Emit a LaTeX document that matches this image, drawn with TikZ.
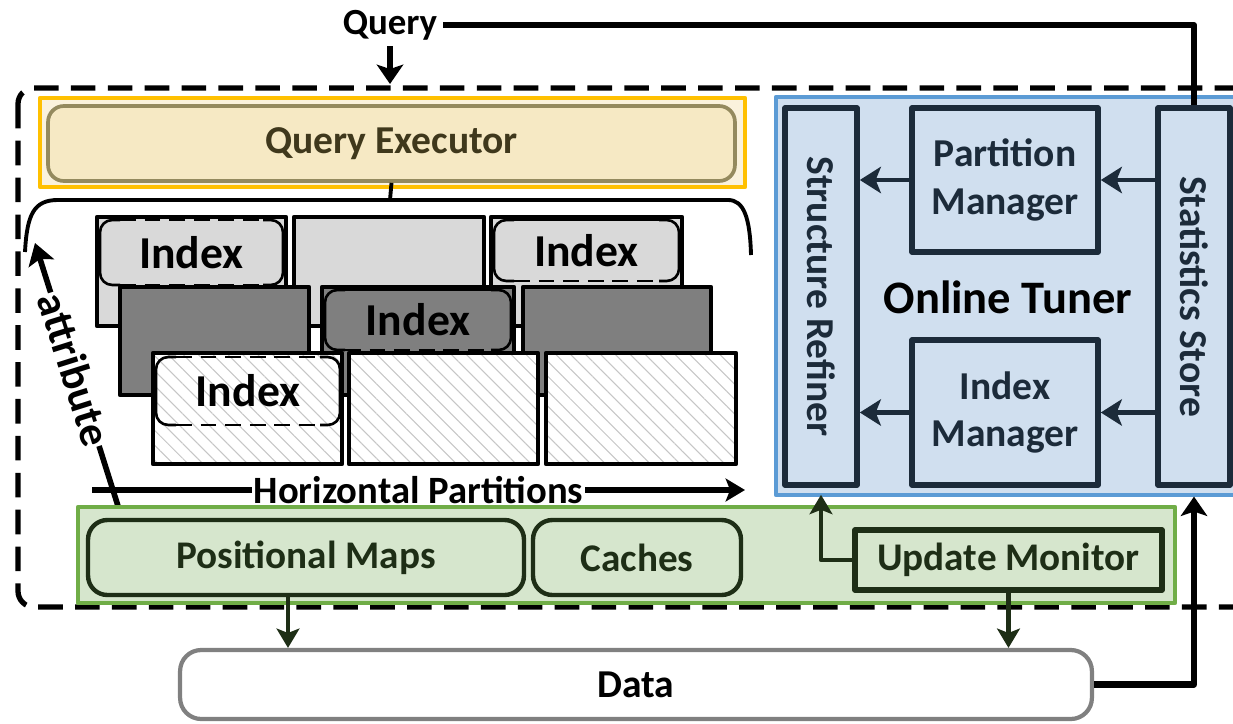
\documentclass[tikz,border=0pt]{standalone}
\usepackage{fontspec}
\setmainfont{Carlito}
\usetikzlibrary{arrows.meta,fit,calc,patterns.meta}

\definecolor{execEdge}{HTML}{FFC000}
\definecolor{execFill}{HTML}{F6E9C4}
\definecolor{execLine}{HTML}{948A5E}
\definecolor{execText}{HTML}{3F381C}
\definecolor{partLight}{HTML}{D9D9D9}
\definecolor{partDark}{HTML}{7F7F7F}
\definecolor{auxEdge}{HTML}{70AD47}
\definecolor{auxFill}{HTML}{D6E6CD}
\definecolor{auxLine}{HTML}{1E2E16}
\definecolor{tunerEdge}{HTML}{5B9BD5}
\definecolor{tunerFill}{HTML}{D0DFEF}
\definecolor{tunerLine}{HTML}{1C2B3A}
\definecolor{dataEdge}{HTML}{808080}

% rounded outline around an index: name, x1, y1, x2, y2, style of the top edge
\newcommand{\indexbox}[6]{%
  \draw[idxedge, rounded corners=7pt] ({#2+20},#3) -- (#2,#3) -- (#2,#5) -- ({#2+20},#5);
  \draw[idxedge, rounded corners=7pt] ({#4-20},#3) -- (#4,#3) -- (#4,#5) -- ({#4-20},#5);
  \draw[idxedge, #6] ({#2+20},#3) -- ({#4-20},#3);
  \draw[idxedge, dash pattern=on 9pt off 5pt] ({#2+20},#5) -- ({#4-20},#5);
  \node[idxtext] (#1) at ({(#2+#4)/2},{(#3+#5)/2}) {Index};
}

\begin{document}
\begin{tikzpicture}[x=0.02cm, y=-0.02cm, line join=round,
    box/.style={draw, inner sep=0pt},
    part/.style={box, line width=2.5pt},
    hatched/.style={preaction={fill=white},
      pattern={Lines[angle=-45, distance=6pt, line width=0.6pt]}, pattern color=gray!45},
    idxedge/.style={line width=1.5pt},
    idxtext/.style={font=\fontsize{26}{30}\selectfont\bfseries},
    exectext/.style={font=\fontsize{22.5}{26}\selectfont\bfseries, text=execText},
    auxbox/.style={box, draw=auxLine, line width=2.5pt, fill=auxFill,
      text=auxLine, font=\fontsize{22.3}{26}\selectfont\bfseries},
    tunerbox/.style={box, draw=tunerLine, line width=3.2pt, fill=tunerFill,
      text=tunerLine, font=\fontsize{22.5}{27}\selectfont\bfseries, align=center},
    tunertext/.style={text=tunerLine, font=\fontsize{22.5}{26}\selectfont\bfseries},
    flow/.style={line width=3.5pt},
    bigarrow/.style={flow, -{Stealth[length=11pt, width=15pt, inset=2.5pt]}},
    tunerarrow/.style={line width=2.7pt, draw=tunerLine,
      -{Stealth[length=12pt, width=15pt, inset=3pt]}},
    thinarrow/.style={line width=2.6pt, draw=auxLine,
      -{Stealth[length=11pt, width=13pt, inset=2.5pt]}},
    axislabel/.style={fill=white, inner sep=1pt, font=\fontsize{22}{26}\selectfont\bfseries}]

  % Page frame
  \useasboundingbox (0,0) rectangle (1233,723);
  \clip (0,0) rectangle (1233,723);

  % Outer dashed frame of the system
  \draw[line width=3pt, dash pattern=on 14pt off 7pt, rounded corners=9pt]
    (18,88) rectangle (1290,607);

  % Incoming query
  \node[font=\fontsize{21}{24}\selectfont\bfseries] (query) at (390,25) {Query};
  \coordinate (qin) at (390,84);
  \draw[bigarrow] (query.south) -- (qin);

  % Query executor
  \node[box, draw=execEdge, line width=2.7pt, fill=execFill!60,
    fit={(40,98) (745,187)}] (execframe) {};
  \node[box, draw=execLine, line width=2.1pt, fill=execFill, rounded corners=9pt,
    exectext, minimum width=13.74cm, minimum height=1.5cm] (qe) at (391.5,143.5) {Query Executor};

  % Bracket holding the partitions
  \coordinate (brtop) at (390,200);
  \draw[line width=2.2pt] (qe.south) -- (brtop);
  \draw[line width=2.2pt] (25,252) .. controls (27,214) and (34,200) .. (58,200)
    -- (728,200) .. controls (744,200) and (750,218) .. (751,255);

  % First attribute layer
  \node[part, fill=partLight, fit={(97,217) (286,326)}] (p11) {};
  \node[part, fill=partLight, fit={(294,217) (484,326)}] (p12) {};
  \node[part, fill=partLight, fit={(491,217) (682,326)}] (p13) {};
  \indexbox{idx11}{100}{220}{283}{285}{dash pattern=on 9pt off 5pt}
  \indexbox{idx13}{494}{220}{679}{281}{}

  % Second attribute layer
  \node[part, fill=partDark, fit={(120,287) (309,395)}] (p21) {};
  \node[part, fill=partDark, fit={(322,287) (514,395)}] (p22) {};
  \node[part, fill=partDark, fit={(523,287) (711,395)}] (p23) {};
  \indexbox{idx22}{325}{290}{511}{350}{}

  % Third attribute layer
  \node[part, hatched, fit={(153,353) (342,464)}] (p31) {};
  \node[part, hatched, fit={(349,353) (538,464)}] (p32) {};
  \node[part, hatched, fit={(546,353) (736,464)}] (p33) {};
  \indexbox{idx31}{156}{357}{340}{425}{dash pattern=on 9pt off 5pt}

  % Partitioning directions
  \draw[line width=3.8pt, -{Stealth[length=11pt, width=13pt, inset=2.5pt]}]
    (92,490) -- node[axislabel] (hp) {Horizontal Partitions} (745,490);
  \draw[line width=3.2pt, -{Stealth[length=12pt, width=15pt, inset=2.5pt]}]
    (118,506) -- node[axislabel, sloped, pos=0.52, font=\fontsize{24.5}{28}\selectfont\bfseries]
    (attr) {attribute} (35,243);

  % Auxiliary structures
  \node[box, draw=auxEdge, line width=2.7pt, fill=auxFill,
    fit={(78,507) (1175,603)}] (aux) {};
  \node[auxbox, rounded corners=11pt, minimum width=8.72cm, minimum height=1.5cm]
    (pm) at (306,557.5) {Positional Maps};
  \node[auxbox, rounded corners=11pt, minimum width=4.16cm, minimum height=1.5cm]
    (cache) at (637,557.5) {Caches};
  \node[auxbox, line width=3.3pt, minimum width=6.14cm, minimum height=1.2cm]
    (um) at (1008.5,560) {Update Monitor};

  % Online tuner
  \node[box, draw=tunerEdge, line width=2.7pt, fill=tunerFill,
    fit={(776,97) (1290,495)}] (tuner) {};
  \node[tunerbox, fit={(785,108) (857,485)}] (sr) {};
  \node[tunerbox, minimum width=3.72cm, minimum height=2.88cm] (pmgr) at (1005,180) {Partition\\Manager};
  \node[tunerbox, minimum width=3.72cm, minimum height=2.9cm] (imgr) at (1005,412.5) {Index\\Manager};
  \node[tunerbox, fit={(1158,108) (1230,485)}] (ss) {};
  \node[tunertext, rotate=-90] (srtext) at (sr.center) {Structure Refiner};
  \node[tunertext, rotate=-90] (sstext) at (ss.center) {Statistics Store};
  \node[font=\fontsize{26.5}{30}\selectfont\bfseries] (tunertitle) at (1008,297) {Online Tuner};

  \draw[tunerarrow] (ss.west |- pmgr.east) -- (pmgr.east);
  \draw[tunerarrow] (pmgr.west) -- (pmgr.west -| sr.east);
  \draw[tunerarrow] (ss.west |- imgr.east) -- (imgr.east);
  \draw[tunerarrow] (imgr.west) -- (imgr.west -| sr.east);

  % Raw data file
  \node[box, draw=dataEdge, line width=2.4pt, rounded corners=12pt,
    font=\fontsize{22.5}{26}\selectfont\bfseries, minimum width=18.24cm, minimum height=1.38cm]
    (data) at (636,684.5) {Data};

  % Data flow
  \draw[flow] (query.east) -| (ss.north);
  \draw[bigarrow, shorten >=5pt] (data.east) -| (ss.south);
  \draw[thinarrow, shorten >=4pt] (um.west) -| (sr.south);
  \draw[thinarrow] (um.south) -- (um.south |- data.north);
  \draw[thinarrow] ($(pm.south)+(-18,0)$) -- ($(pm.south |- data.north)+(-18,0)$);
\end{tikzpicture}
\end{document}
